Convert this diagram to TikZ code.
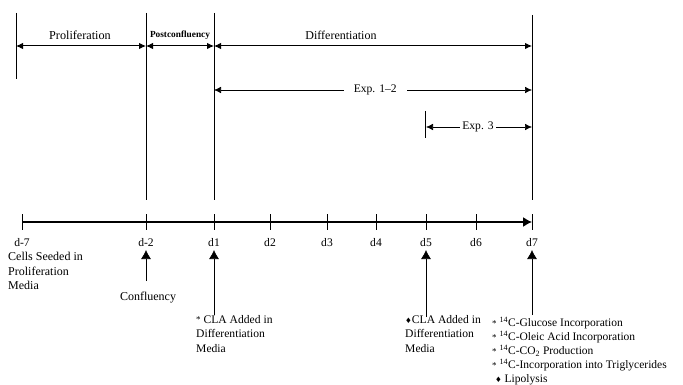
\documentclass[tikz,border=0pt]{standalone}
\usepackage{fontspec}
\setmainfont{Liberation Serif}
\newfontfamily\symfont{DejaVu Sans}
\usetikzlibrary{arrows.meta}
\newcommand{\dmd}{{\symfont\fontsize{7.5}{7.5}\selectfont\char"2666}}
\newcommand{\astmark}{\raisebox{0.1ex}{\fontsize{9}{9}\selectfont *}}
\begin{document}
\begin{tikzpicture}[x=1pt,y=-1pt,
  txt/.style={font=\fontsize{11.6}{14.5}\selectfont, inner sep=0pt},
  lbl/.style={txt, align=left, anchor=north west},
  phase/.style={line width=1pt, {Latex[length=7pt,width=6.5pt]}-{Latex[length=7pt,width=6.5pt]}},
  exp/.style={line width=0.6pt, {Latex[length=7pt,width=6.5pt]}-{Latex[length=7pt,width=6.5pt]}},
  guide/.style={line width=0.6pt},
  tick/.style={line width=1pt},
  axis/.style={line width=1.3pt, -{Latex[length=9pt,width=10pt]}},
  uparrow/.style={line width=0.7pt, -{Latex[length=9pt,width=10pt]}},
  gap/.style={fill=white, inner ysep=1pt}]
\useasboundingbox (0,0) rectangle (683,385);

% vertical phase boundaries
\coordinate (v0t) at (16,13);  \coordinate (v0b) at (16,79);
\coordinate (v1t) at (146,13); \coordinate (v1b) at (146,200);
\coordinate (v2t) at (214,13); \coordinate (v2b) at (214,200);
\coordinate (v3t) at (532,15); \coordinate (v3b) at (532,200);
\draw[line width=1pt] (v0t) -- (v0b);
\draw[guide] (v1t) -- (v1b);
\draw[guide] (v2t) -- (v2b);
\draw[guide] (v3t) -- (v3b);

% phase arrows
\coordinate (p0) at (16,46); \coordinate (p1) at (146,46);
\coordinate (p2) at (214,46); \coordinate (p3) at (532,46);
\draw[phase] (p0) -- (p1);
\draw[phase] (p1) -- (p2);
\draw[phase] (p2) -- (p3);
\node[txt, font=\fontsize{12.2}{14}\selectfont] (prolif) at (80,35) {Proliferation};
\node[txt, font=\bfseries\fontsize{9.3}{10}\selectfont] (postc) at (180,35) {Postconfluency};
\node[txt, font=\fontsize{12}{14}\selectfont] (diff) at (341,35) {Differentiation};

% experiment spans
\coordinate (e1a) at (214,90); \coordinate (e1b) at (532,90);
\draw[exp] (e1a) -- (e1b) node[pos=0.507, gap, txt, inner xsep=10pt] (exp12) {Exp. 1--2};
\coordinate (e3a) at (426,127); \coordinate (e3b) at (532,127);
\coordinate (e3t) at (425,111); \coordinate (e3u) at (425,138);
\draw[line width=0.9pt] (e3t) -- (e3u);
\draw[exp] (e3a) -- (e3b)
  node[pos=0.49, gap, txt, inner xsep=2pt] (exp3) {Exp. 3};

% time axis
\coordinate (a0) at (22,222); \coordinate (a7) at (532,222);
\draw[axis] (a0) -- (a7);
\foreach \x/\n/\t in {22/m7/d-7,146/m2/d-2,214/d1/d1,270/d2/d2,327/d3/d3,376/d4/d4,426/d5/d5,476/d6/d6,532/d7/d7}{
  \draw[tick] (\x,214) -- (\x,230);
  \node[txt] (l\n) at (\x,243) {\t};
}

% events below the axis
\node[lbl, font=\fontsize{12}{14.6}\selectfont] (seed) at (8,252) {Cells Seeded in\\Proliferation\\Media};

\coordinate (c2) at (146,281);
\coordinate (h2) at (146,250);
\draw[uparrow] (c2) -- (h2);
\node[txt, font=\fontsize{12}{14}\selectfont] (conf) at (148,298) {Confluency};

\coordinate (c1) at (214,315);
\coordinate (h1) at (214,250);
\draw[uparrow] (c1) -- (h1);
\node[lbl] (cla1) at (196,315) {\astmark\ CLA Added in\\Differentiation\\Media};

\coordinate (c5) at (426,317);
\coordinate (h5) at (426,250);
\draw[uparrow] (c5) -- (h5);
\node[lbl] (cla5) at (405,315) {\dmd CLA Added in\\Differentiation\\Media};

\coordinate (c7) at (532,315);
\coordinate (h7) at (532,250);
\draw[uparrow] (c7) -- (h7);
\node[lbl, font=\fontsize{11.5}{14}\selectfont] (meas) at (492,317)
  {\astmark\ \textsuperscript{14}C-Glucose Incorporation\\
   \astmark\ \textsuperscript{14}C-Oleic Acid Incorporation\\
   \astmark\ \textsuperscript{14}C-CO\textsubscript{2} Production\\
   \astmark\ \textsuperscript{14}C-Incorporation into Triglycerides\\
   \ \dmd\ Lipolysis};
\end{tikzpicture}
\end{document}
